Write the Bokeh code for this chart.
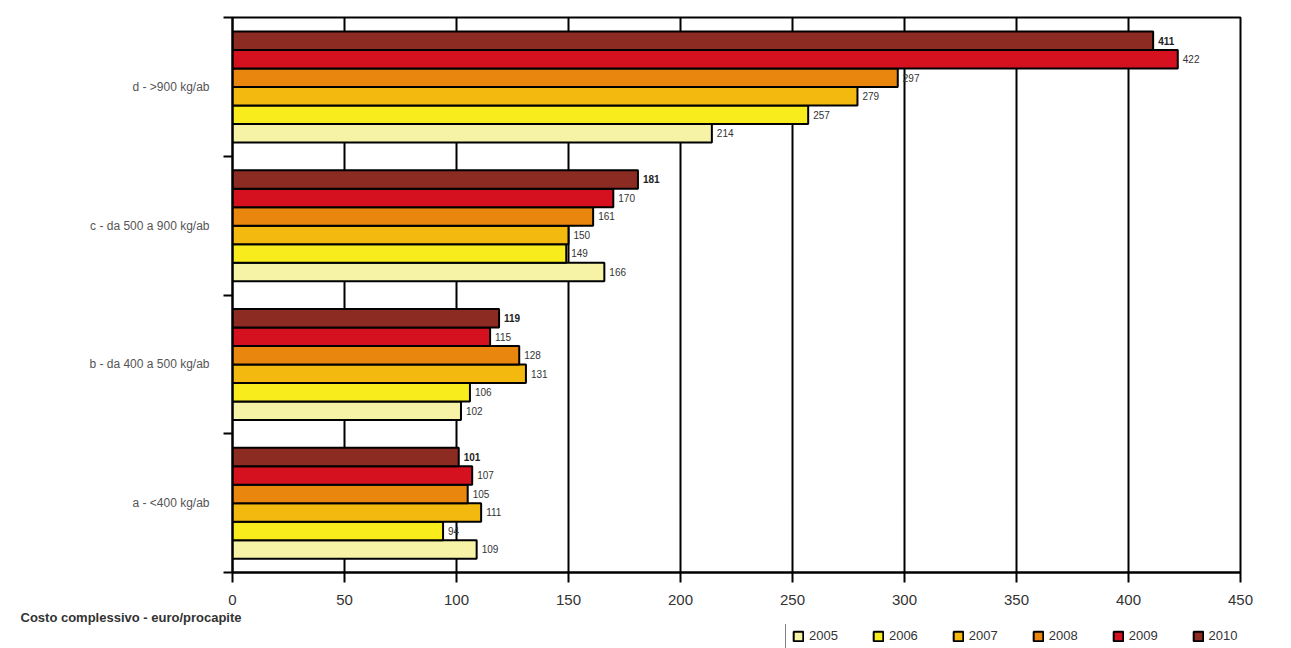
from bokeh.plotting import figure
from bokeh.models import (ColumnDataSource, Range1d, FixedTicker, LabelSet, Title,
                          Legend, LegendItem)
from bokeh.layouts import column
from bokeh.core.properties import value
from bokeh.transform import dodge
from bokeh.embed import file_html
from bokeh.resources import INLINE
import numpy as np

groups = ["a - <400 kg/ab", "b - da 400 a 500 kg/ab", "c - da 500 a 900 kg/ab", "d - >900 kg/ab"]
years = ["2005", "2006", "2007", "2008", "2009", "2010"]
v2005 = [109, 102, 166, 214]
v2006 = [94, 106, 149, 257]
v2007 = [111, 131, 150, 279]
v2008 = [105, 128, 161, 297]
v2009 = [107, 115, 170, 422]
v2010 = [101, 119, 181, 411]
series = [v2005, v2006, v2007, v2008, v2009, v2010]
colors = ["#f6f3a6", "#f9ec1c", "#f3b90f", "#e8860d", "#d5101f", "#8c2b22"]
x_ticks = [0, 50, 100, 150, 200, 250, 300, 350, 400, 450]
axis_title = "Costo complessivo - euro/procapite"

FONT = "Liberation Sans"
pos = np.arange(len(groups)) + 0.5

p = figure(frame_width=1008, frame_height=555, x_range=Range1d(0, 450), y_range=Range1d(0, len(groups)),
           output_backend="svg", toolbar_location=None,
           min_border_left=232, min_border_top=17, min_border_right=35, min_border_bottom=0)
p.background_fill_color = "white"
p.border_fill_color = "white"
p.outline_line_color = "black"
p.outline_line_width = 2

bar_h = 0.8 / len(years)
for i, (yr, vals, col) in enumerate(zip(years, series, colors)):
    off = -0.4 + bar_h * (i + 0.5)
    src = ColumnDataSource(dict(y=pos, v=vals, t=[str(v) for v in vals]))
    p.hbar(y=dodge("y", off), right="v", left=0, height=bar_h, source=src,
           fill_color=col, line_color="black", line_width=2)
    lab = LabelSet(x="v", y=dodge("y", off), text="t", source=src, x_offset=5,
                   text_baseline="middle", text_font_size="10px", text_font=value(FONT),
                   text_color="#333333" if yr != "2010" else "#222222",
                   text_font_style="bold" if yr == "2010" else "normal")
    p.add_layout(lab)

# x axis
p.xaxis.ticker = FixedTicker(ticks=x_ticks)
p.xaxis.axis_line_width = 2
p.xaxis.axis_line_color = "black"
p.xaxis.major_tick_out = 10
p.xaxis.major_tick_in = 0
p.xaxis.major_tick_line_width = 2
p.xaxis.major_tick_line_color = "black"
p.xaxis.minor_tick_line_color = None
p.xaxis.major_label_text_font = FONT
p.xaxis.major_label_text_font_size = "15px"
p.xaxis.major_label_text_color = "#333333"
p.xaxis.major_label_standoff = 12

# y axis
p.yaxis.ticker = FixedTicker(ticks=list(pos), minor_ticks=list(range(len(groups) + 1)))
p.yaxis.major_label_overrides = {float(y): g for y, g in zip(pos, groups)}
p.yaxis.axis_line_width = 2
p.yaxis.axis_line_color = "black"
p.yaxis.major_tick_out = 0
p.yaxis.major_tick_in = 0
p.yaxis.minor_tick_out = 9
p.yaxis.minor_tick_in = 0
p.yaxis.minor_tick_line_width = 2
p.yaxis.minor_tick_line_color = "black"
p.yaxis.major_label_text_font = FONT
p.yaxis.major_label_text_font_size = "12px"
p.yaxis.major_label_text_color = "#555555"
p.yaxis.major_label_standoff = 14

# grids
p.ygrid.grid_line_color = None
p.xgrid.ticker = FixedTicker(ticks=x_ticks)
p.xgrid.grid_line_color = "black"
p.xgrid.grid_line_width = 2

# bottom strip: axis title + legend (legend proxies kept out of view)
p2 = figure(width=1275, height=44, x_range=Range1d(0, 1), y_range=Range1d(10, 11),
            output_backend="svg", toolbar_location=None,
            x_axis_location=None, y_axis_location=None,
            min_border_left=0, min_border_right=0, min_border_top=0, min_border_bottom=0)
p2.outline_line_color = None
p2.background_fill_color = "white"
p2.border_fill_color = "white"
p2.xgrid.grid_line_color = None
p2.ygrid.grid_line_color = None

items = []
for yr, vals, col in zip(years, series, colors):
    r = p2.hbar(y=pos, right=vals, left=0, height=0.1, fill_color=col,
                line_color="black", line_width=2)
    items.append(LegendItem(label=yr, renderers=[r]))

t = Title(text=axis_title, align="left", offset=-212, text_font=FONT, text_font_size="13px",
          text_font_style="bold", text_color="#333333", standoff=0)
p2.add_layout(t, "above")

legend = Legend(items=items, orientation="horizontal", location=(553, 1),
                border_line_color="black", border_line_width=1,
                glyph_width=12, glyph_height=12, label_text_font=FONT,
                label_text_font_size="13px", label_text_color="#333333",
                label_height=12, spacing=34, padding=6, margin=0, label_standoff=5)
p2.add_layout(legend)

layout = column(p, p2, spacing=0)
open("out.html", "w").write(file_html(layout, INLINE))
